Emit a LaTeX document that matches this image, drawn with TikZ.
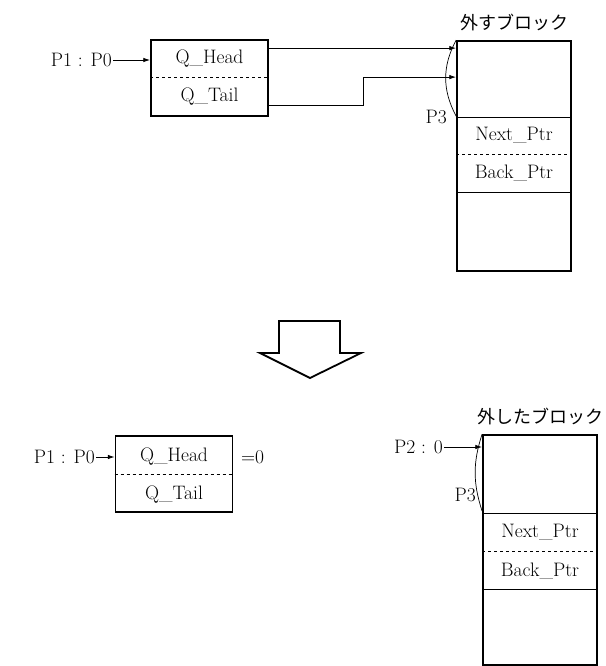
\documentclass[tikz,border=0pt]{standalone}
\usepackage{fontspec}
\newfontfamily\jpfont{Noto Sans CJK JP}
\usetikzlibrary{arrows.meta,positioning}

\begin{document}
\begin{tikzpicture}[
    x=1pt, y=-1pt,
    font=\fontsize{19.5}{22}\selectfont,
    >=Latex,
    qbox/.style={draw, line width=1.8pt, minimum width=117pt, minimum height=76pt, inner sep=0pt},
    blkbox/.style={draw, line width=1.8pt, minimum width=114pt, minimum height=230pt, inner sep=0pt},
    sep/.style={line width=0.7pt},
    ptr/.style={line width=0.8pt, -{Latex[length=2.4mm,width=1.6mm]}},
    tag/.style={inner sep=1pt},
    blktitle/.style={font=\jpfont\fontsize{18}{21}\selectfont}
  ]
    \useasboundingbox (0,0) rectangle (605,666);

    \node[qbox] (qtop) at (209.5,78) {};
    \node (qhtop) at (209.5,59) {Q\_Head};
    \node (qttop) at (209.5,97) {Q\_Tail};
    \draw[sep, dashed] (qtop.west |- 0,77) -- (qtop.east |- 0,77);
    \node[tag, anchor=east] (p1top) at (113,60) {P1 : P0};

    \node[blkbox] (blk) at (514,156) {};
    \node[blktitle] (ttop) at (514,22) {外すブロック};
    \draw[sep] (blk.west |- 0,117) -- (blk.east |- 0,117);
    \draw[sep, dashed] (blk.west |- 0,154) -- (blk.east |- 0,154);
    \draw[sep] (blk.west |- 0,192) -- (blk.east |- 0,192);
    \node (ntop) at (514,135) {Next\_Ptr};
    \node (btop) at (514,173) {Back\_Ptr};
    \node[tag, anchor=east] (p3top) at (448,117) {P3};

    \draw[ptr] (p1top.east) -- (p1top.east -| qtop.west);
    \draw[ptr] ([yshift=-9pt]qtop.north east) -- ([yshift=-9pt]qtop.north east -| blk.west);
    \draw[ptr] ([yshift=11pt]qtop.south east) -- ++(94pt,0pt) |- ([yshift=-37pt]blk.north west);
    \draw[sep] (blk.north west) to[bend right=28] ([yshift=-76pt]blk.north west);

    \draw[line width=1.8pt] (279,321) -- (340,321) -- (340,353) -- (361,353) -- (310,378)
      -- (260,353) -- (279,353) -- cycle;

    \node[qbox] (qbot) at (174,474) {};
    \node (qhbot) at (174,457) {Q\_Head};
    \node (qtbot) at (174,495) {Q\_Tail};
    \draw[sep, dashed] (qbot.west |- 0,474) -- (qbot.east |- 0,474);
    \node[tag, anchor=east] (p1bot) at (96,457) {P1 : P0};
    \node[tag, anchor=west] (zero) at (240,457) {=0};

    \node[blkbox] (blkb) at (540,550) {};
    \node[blktitle] (tbot) at (540,416) {外したブロック};
    \draw[sep] (blkb.west |- 0,513) -- (blkb.east |- 0,513);
    \draw[sep, dashed] (blkb.west |- 0,551) -- (blkb.east |- 0,551);
    \draw[sep] (blkb.west |- 0,589) -- (blkb.east |- 0,589);
    \node (nbot) at (540,532) {Next\_Ptr};
    \node (bbot) at (540,571) {Back\_Ptr};
    \node[tag, anchor=east] (p2) at (444,447) {P2 : 0};
    \node[tag, anchor=east] (p3bot) at (477,495) {P3};

    \draw[ptr] (p1bot.east) -- (p1bot.east -| qbot.west);
    \draw[ptr] (p2.east) -- (p2.east -| blkb.west);
    \draw[sep] (blkb.north west) to[bend right=18] ([yshift=-77pt]blkb.north west);
  \end{tikzpicture}
\end{document}
